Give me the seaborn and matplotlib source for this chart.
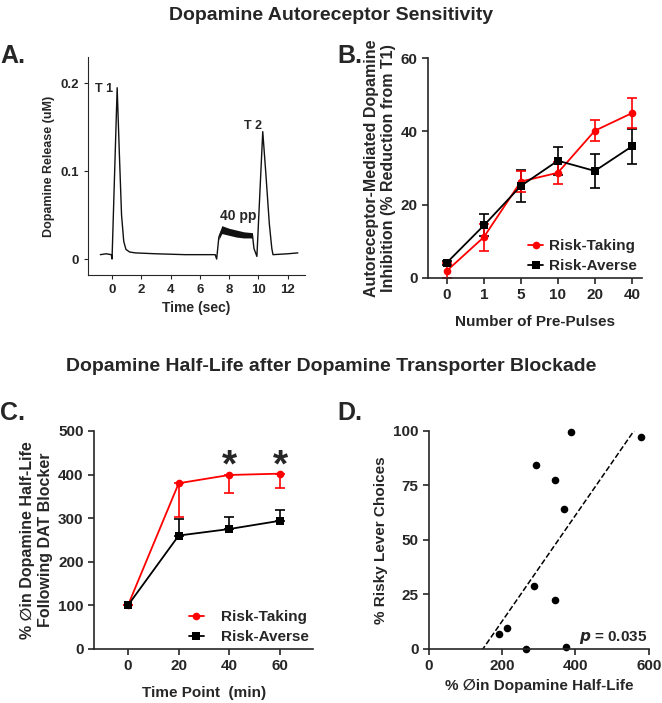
import numpy as np
import pandas as pd
import matplotlib
matplotlib.use("Agg")
import matplotlib.pyplot as plt
import seaborn as sns

# Panel A - trace keypoints
trace_time = [-0.8, -0.4, -0.05, 0.0, 0.35, 0.5, 0.65, 0.8, 0.95, 1.2, 1.6, 3.0, 5.0, 7.05, 7.15,
              7.3, 7.5, 8.0, 8.5, 9.0, 9.6, 9.7, 9.9, 10.3, 10.5, 10.75, 10.92, 11.0, 12.0, 12.7]
trace_value = [0.005, 0.006, 0.005, 0.0, 0.195, 0.12, 0.05, 0.02, 0.011, 0.008, 0.007, 0.006, 0.005,
               0.005, 0.0, 0.025, 0.033, 0.031, 0.029, 0.028, 0.027, 0.012, 0.003, 0.145, 0.1,
               0.04, 0.012, 0.005, 0.006, 0.007]
pp_time = [7.3, 7.5, 8.0, 8.5, 9.0, 9.6]
pp_upper = [0.028, 0.038, 0.035, 0.033, 0.031, 0.030]
pp_lower = [0.022, 0.029, 0.027, 0.025, 0.024, 0.024]

# Panel B - autoreceptor inhibition
pulses = ["0", "1", "5", "10", "20", "40"]
b_taking = [1.9, 11.1, 26.3, 28.7, 40.2, 45.0]
b_taking_err = [2.0, 3.7, 2.8, 3.0, 2.8, 4.1]
b_averse = [4.1, 14.3, 25.1, 32.0, 29.2, 35.9]
b_averse_err = [0.6, 3.0, 4.4, 3.8, 4.7, 4.9]

# Panel C - half-life change over time
timepoints = [0, 20, 40, 60]
c_taking = [100, 380, 399, 402]
c_taking_err = [0, 77, 41, 34]
c_averse = [100, 260, 275, 294]
c_averse_err = [0, 37, 28, 25]

# Panel D - correlation
d_halflife = [389, 580, 293, 345, 369, 286, 345, 212, 190, 265, 374]
d_risky = [99.7, 97.1, 84.3, 77.6, 64.4, 29.0, 22.6, 9.5, 6.9, 0.0, 0.9]

sns.set_style("ticks")
plt.rcParams["font.family"] = ["Liberation Sans", "DejaVu Sans"]
plt.rcParams["font.weight"] = "bold"
plt.rcParams["axes.labelweight"] = "bold"
plt.rcParams["axes.linewidth"] = 1.2
plt.rcParams["xtick.major.width"] = 1.2
plt.rcParams["ytick.major.width"] = 1.2
plt.rcParams["xtick.major.size"] = 4
plt.rcParams["ytick.major.size"] = 4
plt.rcParams["xtick.labelsize"] = 11
plt.rcParams["ytick.labelsize"] = 11
plt.rcParams["axes.labelsize"] = 11

red = "#ff0000"
fig = plt.figure(figsize=(6.62, 7.03), dpi=100)

fig.text(0.5, 0.978, "Dopamine Autoreceptor Sensitivity", ha="center", va="center", fontsize=14, fontweight="bold")
fig.text(0.5, 0.478, "Dopamine Half-Life after Dopamine Transporter Blockade", ha="center", va="center", fontsize=14, fontweight="bold")
for lbl, x, y in [("A.", 0.0, 0.921), ("B.", 0.51, 0.921), ("C.", 0.0, 0.413), ("D.", 0.51, 0.413)]:
    fig.text(x, y, lbl, ha="left", va="center", fontsize=18, fontweight="bold")

# ---- A
axA = fig.add_axes([0.133, 0.609, 0.328, 0.31])
sns.lineplot(x=trace_time, y=trace_value, ax=axA, color="#111111", lw=1.0, sort=False)
axA.fill_between(pp_time, pp_lower, pp_upper, color="#111111", lw=0)
axA.set_xlim(-1.64, 13.2)
axA.set_ylim(-0.018, 0.23)
axA.set_xticks([0, 2, 4, 6, 8, 10, 12])
axA.set_yticks([0, 0.1, 0.2])
axA.set_yticklabels(["0", "0.1", "0.2"])
axA.tick_params(labelsize=9.5, length=3, width=0.8)
for s in ["left", "bottom"]:
    axA.spines[s].set_linewidth(0.8)
axA.set_xlabel("Time (sec)", fontsize=10)
axA.set_ylabel("Dopamine Release (uM)", fontsize=9)
axA.text(-0.55, 0.19, "T 1", fontsize=9, fontweight="bold", ha="center")
axA.text(9.65, 0.148, "T 2", fontsize=9, fontweight="bold", ha="center")
axA.text(8.6, 0.045, "40 pp", fontsize=10, fontweight="bold", ha="center")
sns.despine(ax=axA)

# ---- B
axB = fig.add_axes([0.6465, 0.605, 0.323, 0.312])
pos = np.arange(len(pulses))
dfB = pd.DataFrame({
    "pos": np.concatenate([pos, pos]),
    "val": b_taking + b_averse,
    "group": ["Risk-Taking"] * len(pos) + ["Risk-Averse"] * len(pos),
})
axB.errorbar(pos, b_averse, yerr=b_averse_err, fmt="none", ecolor="black", elinewidth=1.2, capsize=3.5, capthick=1.2)
axB.errorbar(pos, b_taking, yerr=b_taking_err, fmt="none", ecolor=red, elinewidth=1.2, capsize=3.5, capthick=1.2)
sns.lineplot(data=dfB, x="pos", y="val", hue="group", style="group",
             palette={"Risk-Taking": red, "Risk-Averse": "black"},
             markers={"Risk-Taking": "o", "Risk-Averse": "s"}, dashes=False,
             markersize=5.5, markeredgewidth=0, lw=1.3, ax=axB, clip_on=False)
axB.set_xlim(-0.51, 5.27)
axB.set_ylim(0, 60)
axB.set_xticks(pos)
axB.set_xticklabels(pulses)
axB.set_yticks([0, 20, 40, 60])
axB.set_xlabel("Number of Pre-Pulses", labelpad=9)
axB.set_ylabel("Autoreceptor-Mediated Dopamine\nInhibition (% Reduction from T1)", fontsize=11.5, labelpad=3)
axB.legend(loc="lower right", frameon=False, fontsize=11, handlelength=1.0, handletextpad=0.4,
           borderaxespad=0.0, borderpad=0.3, labelspacing=0.4)
sns.despine(ax=axB)

# ---- C
axC = fig.add_axes([0.142, 0.077, 0.331, 0.31])
dfC = pd.DataFrame({
    "time": timepoints + timepoints,
    "val": c_taking + c_averse,
    "group": ["Risk-Taking"] * len(timepoints) + ["Risk-Averse"] * len(timepoints),
})
axC.errorbar(timepoints, c_averse, yerr=[[0] * 4, c_averse_err], fmt="none", ecolor="black",
             elinewidth=1.2, capsize=3.5, capthick=1.2)
axC.errorbar(timepoints, c_taking, yerr=[c_taking_err, [0] * 4], fmt="none", ecolor=red,
             elinewidth=1.2, capsize=3.5, capthick=1.2)
sns.lineplot(data=dfC, x="time", y="val", hue="group", style="group",
             palette={"Risk-Taking": red, "Risk-Averse": "black"},
             markers={"Risk-Taking": "o", "Risk-Averse": "s"}, dashes=False,
             markersize=5.5, markeredgewidth=0, lw=1.3, ax=axC)
for t in [40, 60]:
    axC.text(t, 418, "*", fontsize=28, fontweight="bold", ha="center", va="center")
axC.set_xlim(-13.4, 73)
axC.set_ylim(0, 500)
axC.set_xticks(timepoints)
axC.set_yticks([0, 100, 200, 300, 400, 500])
axC.set_xlabel("Time Point  (min)", labelpad=9)
axC.set_ylabel("% \u2205in Dopamine Half-Life\nFollowing DAT Blocker", fontsize=11.5)
axC.legend(loc="lower right", frameon=False, fontsize=11, handlelength=1.0, handletextpad=1.1,
           borderaxespad=0.0, borderpad=0.3, labelspacing=0.4)
sns.despine(ax=axC)

# ---- D
axD = fig.add_axes([0.648, 0.077, 0.332, 0.31])
axD.set_xlim(0, 600)
axD.set_ylim(0, 100)
sns.regplot(x=d_halflife, y=d_risky, ax=axD, ci=None, truncate=False, color="black",
            scatter_kws={"s": 30, "clip_on": False, "linewidths": 0, "alpha": 1},
            line_kws={"ls": "--", "lw": 1.1})
axD.set_xlim(0, 600)
axD.set_ylim(0, 100)
axD.set_xticks([0, 200, 400, 600])
axD.set_yticks([0, 25, 50, 75, 100])
axD.set_xlabel("% \u2205in Dopamine Half-Life")
axD.set_ylabel("% Risky Lever Choices")
axD.text(597, 1.5, "$\\boldsymbol{p}$ = 0.035", fontsize=11, fontweight="bold", ha="right", va="bottom")
sns.despine(ax=axD)

fig.savefig("out.png", dpi=100)
